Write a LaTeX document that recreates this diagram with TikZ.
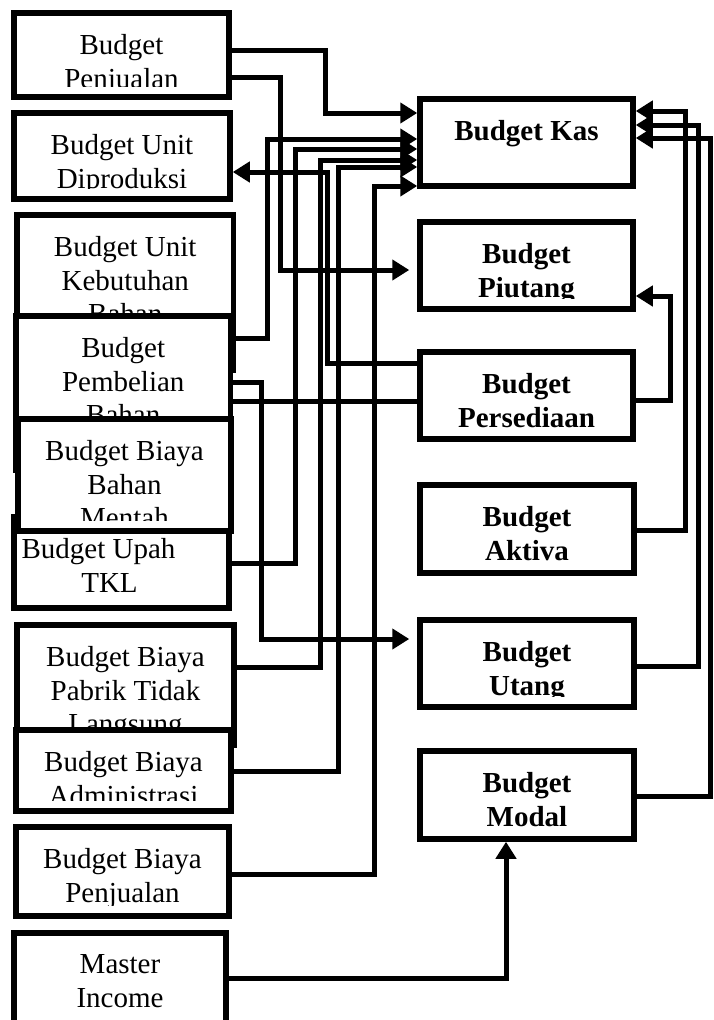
\documentclass[tikz,border=0pt]{standalone}
\usepackage{fontspec}
\setmainfont{Liberation Serif}
\usetikzlibrary{arrows.meta}

\begin{document}
\begin{tikzpicture}[
  x=1pt, y=-1pt,
  box/.style={rectangle, draw, line width=5.5pt, fill=white, inner sep=0pt},
  txt/.style={font=\fontsize{29}{33.3}\selectfont, align=center, inner sep=0pt, minimum width=0pt, minimum height=0pt, anchor=north, draw=none, fill=none},
  boxtext/.style 2 args={path picture={
    \clip ([shift={(3pt,-3pt)}]path picture bounding box.north west) rectangle ([shift={(-3pt,11pt)}]path picture bounding box.south east);
    \node[txt] (#1) at ([yshift=-19pt]path picture bounding box.north) {#2};}},
  conn/.style={line width=5pt, -{Triangle[length=17pt, width=20pt]}},
  wire/.style={line width=5pt}
]
\useasboundingbox (0,0) rectangle (713,1020);
\node[box, minimum width=215, minimum height=84, boxtext={penjt}{Budget\\Penjualan}] (penj) at (121.5,55) {};
\node[box, minimum width=216, minimum height=86, boxtext={unitt}{Budget Unit\\Diproduksi}] (unit) at (122,156) {};
\node[box, minimum width=216.5, minimum height=155, boxtext={butuht}{Budget Unit\\Kebutuhan\\Bahan}] (butuh) at (125.25,292.5) {};
\node[box, minimum width=214.5, minimum height=154, boxtext={belit}{Budget\\Pembelian\\Bahan}] (beli) at (123.25,393) {};
\node[box, minimum width=215, minimum height=91, boxtext={upaht}{Budget Upah\rule{46pt}{0pt}\\TKL\rule{24pt}{0pt}}] (upah) at (121.5,562.5) {};
\node[box, minimum width=213, minimum height=112, boxtext={mentaht}{Budget Biaya\\Bahan\\Mentah}] (mentah) at (124.5,475) {};
\node[box, minimum width=217, minimum height=120, boxtext={boptlt}{Budget Biaya\\Pabrik Tidak\\Langsung}] (boptl) at (125.5,685) {};
\node[box, minimum width=215, minimum height=81, boxtext={admint}{Budget Biaya\\Administrasi}] (admin) at (123.5,770.5) {};
\node[box, minimum width=213, minimum height=89, boxtext={bpenjt}{Budget Biaya\\Penjualan}] (bpenj) at (122.5,871.5) {};
\node[box, minimum width=212, minimum height=93, boxtext={mastert}{Master\\Income}] (master) at (120,979.5) {};
\node[box, minimum width=213, minimum height=87, boxtext={kast}{\bfseries Budget Kas}] (kas) at (526.5,142.5) {};
\node[box, minimum width=213, minimum height=87, boxtext={piutangt}{\bfseries Budget\\\bfseries Piutang}] (piutang) at (526.5,265.5) {};
\node[box, minimum width=213, minimum height=87, boxtext={sediat}{\bfseries Budget\\\bfseries Persediaan}] (sedia) at (526.5,395.5) {};
\node[box, minimum width=214, minimum height=88, boxtext={aktivat}{\bfseries Budget\\\bfseries Aktiva}] (aktiva) at (527,529) {};
\node[box, minimum width=214, minimum height=87, boxtext={utangt}{\bfseries Budget\\\bfseries Utang}] (utang) at (527,663.5) {};
\node[box, minimum width=214, minimum height=88, boxtext={modalt}{\bfseries Budget\\\bfseries Modal}] (modal) at (527,795) {};
\draw[conn] (penj.east |- 0,50) -| (325,113) -- (kas.west |- 0,113);
\draw[conn, shorten >=8pt] (penj.east |- 0,77) -| (280,270) -- (piutang.west |- 0,270);
\draw[conn] (butuh.east |- 0,338) -| (267,139) -- (kas.west |- 0,139);
\draw[conn] (upah.east |- 0,563) -| (295,149) -- (kas.west |- 0,149);
\draw[conn] (boptl.east |- 0,667) -| (320,160) -- (kas.west |- 0,160);
\draw[conn] (admin.east |- 0,771) -| (338,167) -- (kas.west |- 0,167);
\draw[conn] (bpenj.east |- 0,874) -| (374,186) -- (kas.west |- 0,186);
\draw[conn] (sedia.west |- 0,363) -| (327,172) -- (unit.east |- 0,172);
\draw[conn, shorten >=8pt] (beli.east |- 0,382) -| (261,639) -- (utang.west |- 0,639);
\draw[wire] (beli.east |- 0,401) -- (sedia.west |- 0,401);
\draw[conn] (sedia.east |- 0,400) -| (670,296) -- (piutang.east |- 0,296);
\draw[conn] (aktiva.east |- 0,530) -| (685,111) -- (kas.east |- 0,111);
\draw[conn] (utang.east |- 0,666) -| (698,125) -- (kas.east |- 0,125);
\draw[conn] (modal.east |- 0,796) -| (710,138) -- (kas.east |- 0,138);
\draw[conn] (master.east |- 0,978) -| (modal.south -| 506,0);
\end{tikzpicture}
\end{document}
